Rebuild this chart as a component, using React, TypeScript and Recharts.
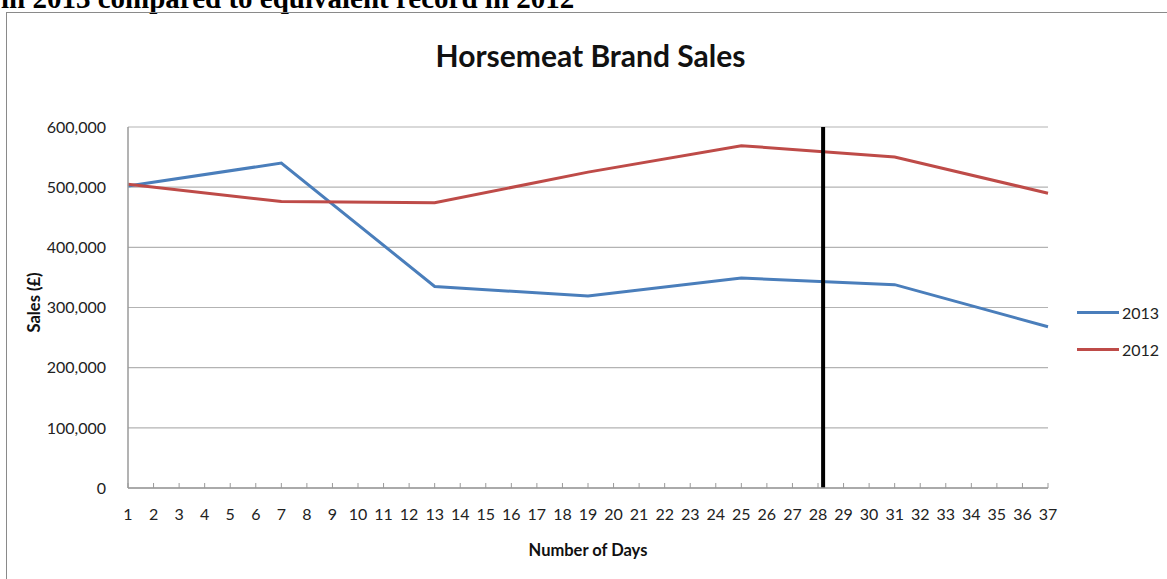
import {
  LineChart,
  Line,
  XAxis,
  YAxis,
  CartesianGrid,
  ReferenceLine,
} from "recharts";

const days = [1, 7, 13, 19, 25, 31, 37];
const sales2013 = [502000, 540000, 335000, 319000, 349000, 338000, 268000];
const sales2012 = [505000, 476000, 474000, 525000, 569000, 550000, 490000];
const dayTicks = [
  1, 2, 3, 4, 5, 6, 7, 8, 9, 10, 11, 12, 13, 14, 15, 16, 17, 18, 19, 20, 21,
  22, 23, 24, 25, 26, 27, 28, 29, 30, 31, 32, 33, 34, 35, 36, 37,
];
const salesTicks = [0, 100000, 200000, 300000, 400000, 500000, 600000];
// hand-drawn marker, sits just right of the 28 tick
const markerDay = 28.2;

const data = days.map((day, i) => ({
  day,
  y2013: sales2013[i],
  y2012: sales2012[i],
}));

const BLUE = "#4a7ebb";
const RED = "#be4b48";
const FONT = "Lato, 'Open Sans', sans-serif";

const legendItems = [
  { name: "2013", color: BLUE },
  { name: "2012", color: RED },
];

// legend sits outside the chart so it doesn't eat into the plot area
const ChartLegend = () => (
  <div
    style={{
      position: "absolute",
      left: 1077,
      top: 294,
      fontFamily: FONT,
      fontSize: 16,
      color: "#222",
    }}
  >
    {legendItems.map((item) => (
      <div
        key={item.name}
        style={{ display: "flex", alignItems: "center", height: 37 }}
      >
        <div
          style={{ width: 42, height: 3, background: item.color, marginRight: 3 }}
        />
        <span>{item.name}</span>
      </div>
    ))}
  </div>
);

export default function App() {
  return (
    <div
      style={{
        position: "absolute",
        left: 0,
        top: 0,
        width: 1167,
        height: 579,
        overflow: "hidden",
        background: "#fff",
      }}
    >
      <div
        style={{
          position: "absolute",
          left: 1,
          top: -18,
          fontFamily: "'Liberation Serif', 'Times New Roman', serif",
          fontWeight: "bold",
          fontSize: 29,
          whiteSpace: "nowrap",
          color: "#000",
        }}
      >
        in 2013 compared to equivalent record in 2012
      </div>
      <div
        style={{
          position: "absolute",
          left: 6,
          top: 12,
          width: 1170,
          height: 580,
          border: "1.5px solid #8a8a8a",
        }}
      />
      <div
        style={{
          position: "absolute",
          left: 0,
          top: 37,
          width: 1181,
          textAlign: "center",
          fontFamily: FONT,
          fontWeight: "bold",
          fontSize: 30,
          color: "#111",
        }}
      >
        Horsemeat Brand Sales
      </div>
      <div style={{ position: "absolute", left: 0, top: 0 }}>
        <LineChart
          width={1167}
          height={579}
          data={data}
          margin={{ top: 127, right: 119, bottom: 61, left: 28 }}
        >
          <CartesianGrid vertical={false} stroke="#b3b3b3" strokeWidth={1.2} />
          <XAxis
            dataKey="day"
            type="number"
            domain={[1, 37]}
            ticks={dayTicks}
            interval={0}
            height={30}
            axisLine={{ stroke: "#9a9a9a", strokeWidth: 1.5 }}
            tickLine={{ stroke: "#9a9a9a" }}
            tickSize={-5}
            tickMargin={26}
            tick={{ fill: "#222", fontSize: 16, fontFamily: FONT }}
            label={{
              value: "Number of Days",
              position: "insideBottom",
              offset: -38,
              style: {
                fill: "#111",
                fontSize: 16.5,
                fontWeight: "bold",
                fontFamily: FONT,
              },
            }}
          />
          <YAxis
            type="number"
            domain={[0, 600000]}
            ticks={salesTicks}
            width={100}
            axisLine={{ stroke: "#9a9a9a", strokeWidth: 1.5 }}
            tickLine={false}
            tickMargin={16}
            tickFormatter={(v: number) => v.toLocaleString("en-GB")}
            tick={{ fill: "#222", fontSize: 16, fontFamily: FONT }}
            label={{
              value: "Sales (£)",
              angle: -90,
              position: "insideLeft",
              offset: 0,
              dx: 6,
              dy: -5,
              style: {
                fill: "#111",
                fontSize: 16.5,
                fontWeight: "bold",
                fontFamily: FONT,
                textAnchor: "middle",
              },
            }}
          />
          <Line
            dataKey="y2013"
            name="2013"
            stroke={BLUE}
            strokeWidth={3}
            dot={false}
            isAnimationActive={false}
          />
          <Line
            dataKey="y2012"
            name="2012"
            stroke={RED}
            strokeWidth={3}
            dot={false}
            isAnimationActive={false}
          />
          <ReferenceLine x={markerDay} stroke="#000" strokeWidth={4} />
        </LineChart>
      </div>
      <ChartLegend />
    </div>
  );
}
